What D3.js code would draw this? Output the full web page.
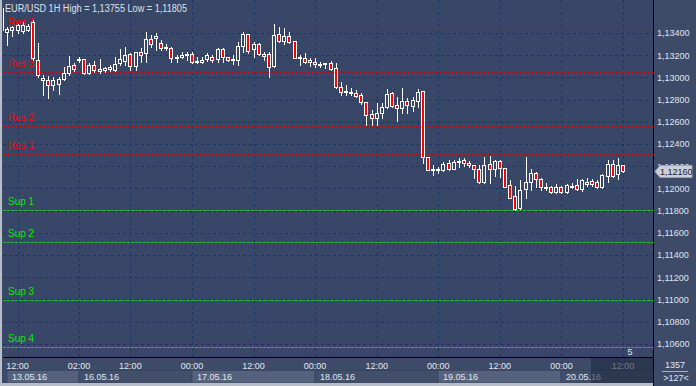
<!DOCTYPE html>
<html>
<head>
<meta charset="utf-8">
<script src="https://d3js.org/d3.v7.min.js"></script>
<style>
body { margin:0; background:#3e4d69; overflow:hidden; }
svg text { font-family: "Liberation Sans", Arial, sans-serif; }
</style>
</head>
<body>
<svg id="chart" width="696" height="386"></svg>
<script>

// ---- data (EUR/USD 1H) ----
var barIndex = d3.range(-3, 119);   // hour bars, 0 = 13.05.16 12:00

var opens = [1.13622,1.13411,1.13426,1.13426,1.13417,1.13426,1.13501,1.13156,1.12976,1.12976,
  1.12931,1.12940,1.12982,1.13041,1.13111,1.13162,1.13162,1.13041,1.13111,1.13057,
  1.13066,1.13072,1.13066,1.13126,1.13150,1.13207,1.13105,1.13225,1.13216,1.13345,
  1.13351,1.13306,1.13261,1.13261,1.13171,1.13180,1.13198,1.13207,1.13135,1.13138,
  1.13165,1.13186,1.13162,1.13252,1.13180,1.13159,1.13156,1.13285,1.13390,1.13252,
  1.13297,1.13195,1.13207,1.13105,1.13390,1.13330,1.13372,1.13327,1.13174,1.13171,
  1.13141,1.13141,1.13117,1.13117,1.13132,1.13081,1.12910,1.12868,1.12856,1.12861,
  1.12841,1.12775,1.12669,1.12631,1.12676,1.12730,1.12856,1.12750,1.12721,1.12786,
  1.12744,1.12789,1.12877,1.12279,1.12168,1.12168,1.12165,1.12225,1.12177,1.12243,
  1.12252,1.12225,1.12207,1.12171,1.12059,1.12216,1.12171,1.12246,1.12180,1.12030,
  1.11931,1.11820,1.11991,1.12059,1.12135,1.12081,1.12009,1.12009,1.11964,1.12009,
  1.11964,1.12014,1.12027,1.11991,1.12059,1.12063,1.12059,1.12009,1.12114,1.12216,
  1.12126,1.12210];
var highs = [1.13755,1.13453,1.13462,1.13480,1.13498,1.13480,1.13516,1.13309,1.13021,1.13012,
  1.13003,1.13003,1.13093,1.13192,1.13126,1.13183,1.13168,1.13126,1.13150,1.13162,
  1.13095,1.13111,1.13186,1.13252,1.13276,1.13216,1.13231,1.13261,1.13411,1.13381,
  1.13396,1.13336,1.13297,1.13276,1.13201,1.13231,1.13231,1.13231,1.13186,1.13186,
  1.13219,1.13201,1.13261,1.13261,1.13183,1.13201,1.13321,1.13411,1.13390,1.13321,
  1.13306,1.13231,1.13225,1.13477,1.13450,1.13441,1.13411,1.13327,1.13201,1.13222,
  1.13171,1.13171,1.13141,1.13132,1.13147,1.13132,1.12960,1.12931,1.12906,1.12886,
  1.12856,1.12775,1.12705,1.12766,1.12766,1.12895,1.12870,1.12825,1.12901,1.12816,
  1.12823,1.12895,1.12877,1.12279,1.12210,1.12195,1.12240,1.12255,1.12255,1.12270,
  1.12276,1.12249,1.12213,1.12210,1.12279,1.12291,1.12255,1.12255,1.12186,1.12075,
  1.12021,1.12075,1.12279,1.12171,1.12150,1.12095,1.12045,1.12021,1.12039,1.12021,
  1.12039,1.12050,1.12081,1.12084,1.12090,1.12081,1.12075,1.12126,1.12255,1.12255,
  1.12270,1.12210];
var lows = [1.13417,1.13291,1.13372,1.13399,1.13399,1.13417,1.13156,1.13003,1.12841,1.12814,
  1.12886,1.12850,1.12976,1.13021,1.13059,1.13138,1.13030,1.13030,1.13050,1.13036,
  1.13050,1.13059,1.13059,1.13111,1.13111,1.13066,1.13066,1.13141,1.13141,1.13276,
  1.13246,1.13246,1.13246,1.13141,1.13141,1.13171,1.13156,1.13126,1.13126,1.13126,
  1.13147,1.13135,1.13135,1.13141,1.13150,1.13117,1.13111,1.13231,1.13216,1.13186,
  1.13201,1.13156,1.13005,1.13095,1.13321,1.13300,1.13306,1.13171,1.13111,1.13126,
  1.13102,1.13095,1.13095,1.13086,1.13066,1.12901,1.12841,1.12841,1.12841,1.12825,
  1.12757,1.12570,1.12570,1.12570,1.12631,1.12721,1.12735,1.12606,1.12676,1.12676,
  1.12699,1.12730,1.12225,1.12165,1.12120,1.12135,1.12159,1.12165,1.12171,1.12189,
  1.12201,1.12189,1.12090,1.12045,1.12050,1.12045,1.12111,1.12105,1.12009,1.11910,
  1.11805,1.11811,1.11910,1.11985,1.12009,1.11985,1.11985,1.11960,1.11955,1.11955,
  1.11960,1.12000,1.11985,1.11976,1.12021,1.12021,1.12000,1.12000,1.12059,1.12105,
  1.12081,1.12150];
var closes = [1.13426,1.13432,1.13456,1.13471,1.13471,1.13462,1.13171,1.13021,1.12994,1.12931,
  1.12976,1.12985,1.13041,1.13102,1.13072,1.13165,1.13041,1.13111,1.13066,1.13072,
  1.13081,1.13095,1.13120,1.13162,1.13201,1.13105,1.13225,1.13201,1.13342,1.13297,
  1.13372,1.13261,1.13276,1.13171,1.13186,1.13201,1.13207,1.13135,1.13147,1.13156,
  1.13201,1.13156,1.13255,1.13180,1.13153,1.13162,1.13285,1.13390,1.13240,1.13300,
  1.13207,1.13207,1.13095,1.13381,1.13330,1.13372,1.13315,1.13171,1.13180,1.13141,
  1.13156,1.13117,1.13123,1.13126,1.13075,1.12910,1.12870,1.12874,1.12865,1.12834,
  1.12775,1.12660,1.12631,1.12676,1.12735,1.12850,1.12744,1.12721,1.12786,1.12750,
  1.12796,1.12865,1.12279,1.12165,1.12171,1.12174,1.12216,1.12177,1.12240,1.12246,
  1.12225,1.12207,1.12171,1.12059,1.12210,1.12171,1.12246,1.12180,1.12014,1.11915,
  1.11811,1.11985,1.12054,1.12135,1.12084,1.12009,1.12014,1.11967,1.12009,1.11964,
  1.12027,1.12021,1.11991,1.12075,1.12036,1.12036,1.12009,1.12120,1.12216,1.12114,
  1.12210,1.12160];

var priceTicks = d3.range(1.106, 1.1341, 0.002);

var resLevels = [1.13420, 1.13045, 1.12561, 1.12309];
var resNames = ["Res 4", "Res 3", "Res 2", "Res 1"];
var supLevels = [1.11802, 1.11514, 1.10994, 1.10573];
var supNames = ["Sup 1", "Sup 2", "Sup 3", "Sup 4"];

var timeTickBars = [0, 12, 22, 34, 46, 58, 70, 82, 94, 106, 118];
var timeTickLabels = ["12:00","02:00","12:00","00:00","12:00","00:00","12:00","00:00","12:00","00:00","12:00"];

var dayStartBars = [-2, 12, 34, 58, 82, 106];
var dayLabels = ["13.05.16","16.05.16","17.05.16","18.05.16","19.05.16","20.05.16"];

var lastPrice = 1.12160;
var titleText = "EUR/USD 1H High = 1,13755 Low = 1,11805";

// ---- layout ----
var svg = d3.select("#chart");
var plotL = 3, plotR = 653, plotT = 0, plotB = 357;
var bgPlot = "#384767";

var x = d3.scaleLinear().domain([0, 118]).range([17.5, 623]);
var y = d3.scaleLinear().domain([1.104802, 1.136964]).range([plotB, plotT]);

function fmt(v) { return v.toFixed(5).replace(".", ","); }
function px(v) { return Math.round(v) + 0.5; }

svg.append("rect").attr("width", 696).attr("height", 386).attr("fill", "#3d4b68");
svg.append("rect").attr("x", plotL).attr("y", plotT)
  .attr("width", plotR - plotL).attr("height", plotB - plotT).attr("fill", bgPlot);

svg.append("clipPath").attr("id", "plotclip").append("rect")
  .attr("x", plotL).attr("y", plotT).attr("width", plotR - plotL).attr("height", plotB - plotT);

// grid
var grid = svg.append("g").attr("stroke", "#1d3762").attr("stroke-dasharray", "3,3").attr("stroke-width", 1);
grid.selectAll("line.h").data(priceTicks).enter().append("line")
  .attr("x1", plotL).attr("x2", plotR)
  .attr("y1", function(d) { return px(y(d)); }).attr("y2", function(d) { return px(y(d)); });
grid.selectAll("line.v").data(timeTickBars).enter().append("line")
  .attr("y1", plotT).attr("y2", plotB)
  .attr("x1", function(d) { return px(x(d)); }).attr("x2", function(d) { return px(x(d)); });

// support / resistance
var levels = svg.append("g");
levels.selectAll("line.res").data(resLevels).enter().append("line")
  .attr("x1", plotL).attr("x2", plotR)
  .attr("y1", function(d) { return px(y(d)); }).attr("y2", function(d) { return px(y(d)); })
  .attr("stroke", "#e00000").attr("stroke-dasharray", "3,1");
levels.selectAll("line.sup").data(supLevels).enter().append("line")
  .attr("x1", plotL).attr("x2", plotR)
  .attr("y1", function(d) { return px(y(d)); }).attr("y2", function(d) { return px(y(d)); })
  .attr("stroke", "#00e000").attr("stroke-dasharray", "3,1");
levels.selectAll("text.res").data(resLevels).enter().append("text")
  .attr("x", 8).attr("y", function(d) { return y(d) - 5; })
  .attr("fill", "#ff0000").attr("font-size", "10px")
  .text(function(d, i) { return resNames[i]; });
levels.selectAll("text.sup").data(supLevels).enter().append("text")
  .attr("x", 8).attr("y", function(d) { return y(d) - 5; })
  .attr("fill", "#00ee00").attr("font-size", "10px")
  .text(function(d, i) { return supNames[i]; });

// candles
var candles = svg.append("g").attr("clip-path", "url(#plotclip)")
  .selectAll("g").data(barIndex).enter().append("g");
candles.append("line")
  .attr("x1", function(d) { return Math.round(x(d)) + 0.5; })
  .attr("x2", function(d) { return Math.round(x(d)) + 0.5; })
  .attr("y1", function(d, i) { return Math.round(y(highs[i])); })
  .attr("y2", function(d, i) { return Math.round(y(lows[i])) + 1; })
  .attr("stroke", "#ffffff");
candles.append("rect")
  .attr("x", function(d) { return Math.round(x(d)) - 1.5; })
  .attr("width", 3)
  .attr("y", function(d, i) { return px(y(Math.max(opens[i], closes[i]))); })
  .attr("height", function(d, i) {
    return Math.max(1, Math.round(y(Math.min(opens[i], closes[i]))) - Math.round(y(Math.max(opens[i], closes[i]))));
  })
  .attr("fill", function(d, i) { return closes[i] < opens[i] ? "#ff0000" : bgPlot; })
  .attr("stroke", "#ffffff");

// title
svg.append("text").attr("x", 5).attr("y", 11.5).attr("font-size", "10px")
  .attr("textLength", 182).attr("lengthAdjust", "spacingAndGlyphs")
  .attr("fill", "#dde2ea").text(titleText);

// frame lines
svg.append("line").attr("x1", 653.5).attr("x2", 653.5).attr("y1", 0).attr("y2", 386).attr("stroke", "#000");
svg.append("line").attr("x1", plotL).attr("x2", 653).attr("y1", 357.5).attr("y2", 357.5).attr("stroke", "#000");

// price axis
svg.append("g").selectAll("text").data(priceTicks).enter().append("text")
  .attr("x", 657).attr("y", function(d) { return y(d) + 3.5; })
  .attr("font-size", "9px").attr("fill", "#dfe4ee")
  .text(function(d) { return fmt(d); });

// current price marker
var yp = px(y(lastPrice));
svg.append("path")
  .attr("d", "M655," + yp + " L660," + (yp - 6) + " L692," + (yp - 6) + " L692," + (yp + 6) + " L660," + (yp + 6) + " Z")
  .attr("fill", "#c9ced8").attr("stroke", "#9aa2b2");
svg.append("text").attr("x", 660).attr("y", yp + 3.5).attr("font-size", "9px")
  .attr("fill", "#1b2436").text(fmt(lastPrice));

// time axis
var days = svg.append("g");
days.selectAll("rect").data(dayStartBars).enter().append("rect")
  .attr("x", function(d) { return Math.round(x(d)); })
  .attr("y", 370.5)
  .attr("width", function(d, i) {
    var end = i < dayStartBars.length - 1 ? Math.round(x(dayStartBars[i + 1])) : 653;
    return end - Math.round(x(d));
  })
  .attr("height", 12.5)
  .attr("fill", function(d, i) { return i % 2 == 0 ? "#55627d" : "#414f6b"; })
  .attr("stroke", "#34425d").attr("stroke-width", 0.6);
days.selectAll("text").data(dayStartBars).enter().append("text")
  .attr("x", function(d) { return Math.round(x(d)) + 5; })
  .attr("y", 380).attr("font-size", "9px").attr("fill", "#e2e6ee")
  .text(function(d, i) { return dayLabels[i]; });

svg.append("g").selectAll("text").data(timeTickBars).enter().append("text")
  .attr("x", function(d) { return x(d); }).attr("y", 369)
  .attr("text-anchor", "middle").attr("font-size", "9px").attr("fill", "#e2e6ee")
  .text(function(d, i) { return timeTickLabels[i]; });

// shaded area under the forming bar
svg.append("rect").attr("x", 591).attr("y", 358).attr("width", 62).attr("height", 28)
  .attr("fill", "#1f2a40").attr("opacity", 0.6);

// bar timer
svg.append("text").attr("x", 630).attr("y", 355).attr("text-anchor", "middle")
  .attr("font-size", "9px").attr("fill", "#e2e6ee").text("5");

// bottom-right info box
svg.append("text").attr("x", 675).attr("y", 368).attr("text-anchor", "middle")
  .attr("font-size", "9px").attr("fill", "#e2e6ee").text("1357");
svg.append("line").attr("x1", 662).attr("x2", 688).attr("y1", 371.5).attr("y2", 371.5)
  .attr("stroke", "#aab2c2");
svg.append("text").attr("x", 676).attr("y", 381).attr("text-anchor", "middle")
  .attr("font-size", "9px").attr("fill", "#e2e6ee").text(">127<");

// outer frame (left and bottom)
svg.append("rect").attr("x", 0).attr("y", 0).attr("width", 2).attr("height", 386).attr("fill", "#b8bec9");
svg.append("rect").attr("x", 0).attr("y", 383).attr("width", 653).attr("height", 3).attr("fill", "#b8bec9");

</script>
</body>
</html>
